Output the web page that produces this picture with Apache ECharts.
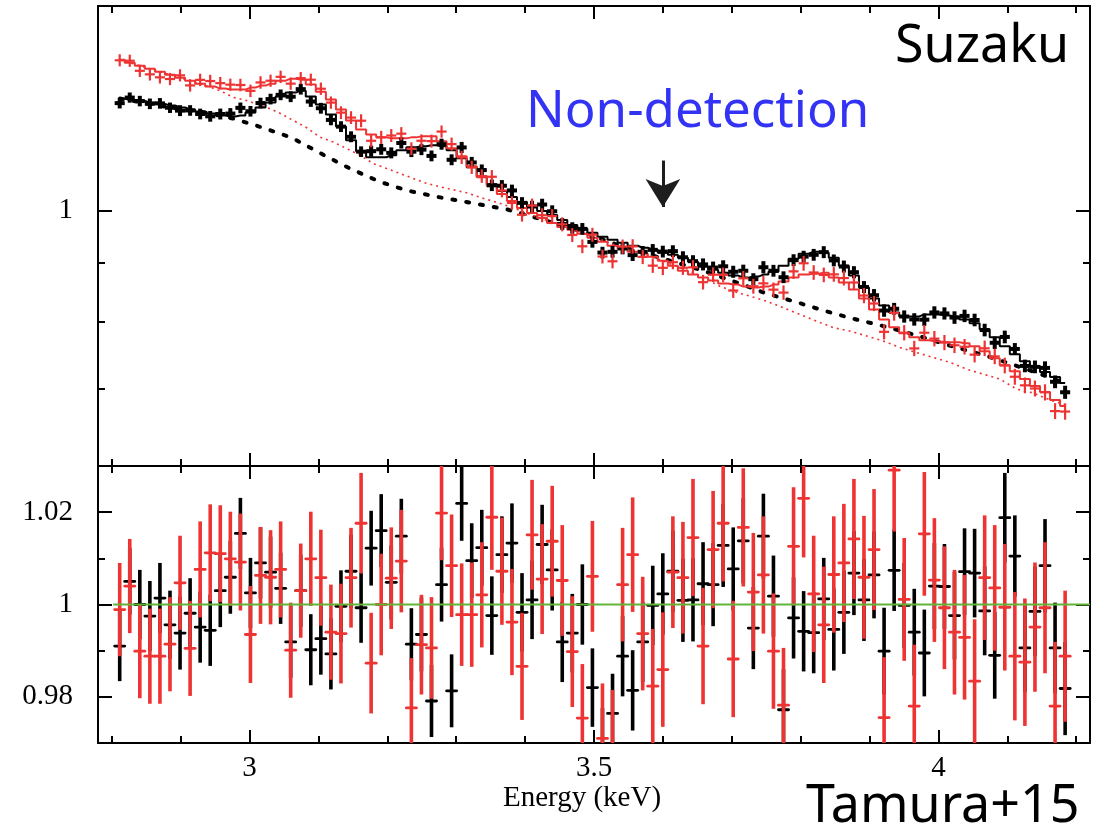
<!DOCTYPE html>
<html><head><meta charset="utf-8">
<script src="https://cdn.jsdelivr.net/npm/echarts@6/dist/echarts.min.js"></script>
<style>html,body{margin:0;padding:0;background:#fff}#c{width:1110px;height:829px}</style>
</head><body><div id="c"></div>
<script>
// ---- bin centres (keV) ----
const energies = [2.8115,2.8261,2.8407,2.8553,2.8699,2.8845,2.8991,2.9137,2.9283,2.9429,
2.9575,2.9721,2.9867,3.0013,3.0159,3.0305,3.0451,3.0597,3.0743,3.0889,
3.1035,3.1181,3.1327,3.1473,3.1619,3.1765,3.1911,3.2057,3.2203,3.2349,
3.2495,3.2641,3.2787,3.2933,3.3079,3.3225,3.3371,3.3517,3.3663,3.3809,
3.3955,3.4101,3.4247,3.4393,3.4539,3.4685,3.4831,3.4977,3.5123,3.5269,
3.5415,3.5561,3.5707,3.5853,3.5999,3.6145,3.6291,3.6437,3.6583,3.6729,
3.6875,3.7021,3.7167,3.7313,3.7459,3.7605,3.7751,3.7897,3.8043,3.8189,
3.8335,3.8481,3.8627,3.8773,3.8919,3.9065,3.9211,3.9357,3.9503,3.9649,
3.9795,3.9941,4.0087,4.0233,4.0379,4.0525,4.0671,4.0817,4.0963,4.1109,
4.1255,4.1401,4.1547,4.1693,4.1839];
const halfBin = 0.0073;

// ---- upper panel: data and model (black = XIS FI, red = XIS BI) ----
const blackData = [1.2394,1.2532,1.2445,1.2377,1.2388,1.2280,1.2209,1.2214,1.2128,1.2071,
1.2127,1.2138,1.2277,1.2194,1.2396,1.2495,1.2601,1.2554,1.2745,1.2434,
1.2268,1.1985,1.1825,1.1588,1.1248,1.1259,1.1301,1.1221,1.1445,1.1248,
1.1294,1.1153,1.1417,1.1067,1.1343,1.1008,1.0842,1.0516,1.0507,1.0409,
1.0153,1.0080,1.0120,0.9985,0.9734,0.9656,0.9639,0.9391,0.9193,0.9207,
0.9269,0.9146,0.9207,0.9243,0.9211,0.9219,0.9107,0.9036,0.8978,0.8922,
0.8944,0.8847,0.8865,0.8717,0.8927,0.8865,0.8751,0.9055,0.9119,0.9152,
0.9201,0.9050,0.8940,0.8839,0.8581,0.8441,0.8187,0.8216,0.8090,0.8043,
0.8039,0.8156,0.8140,0.8073,0.8100,0.8034,0.7874,0.7676,0.7766,0.7582,
0.7329,0.7315,0.7300,0.7100,0.6953];
const blackModel = [1.2507,1.2470,1.2445,1.2408,1.2371,1.2334,1.2285,1.2237,1.2188,1.2139,
1.2091,1.2067,1.2091,1.2164,1.2285,1.2408,1.2557,1.2657,1.2707,1.2557,
1.2359,1.2115,1.1830,1.1505,1.1256,1.1123,1.1123,1.1167,1.1278,1.1346,
1.1368,1.1391,1.1368,1.1278,1.1100,1.0904,1.0710,1.0541,1.0395,1.0272,
1.0170,1.0070,0.9990,0.9911,0.9813,0.9716,0.9639,0.9563,0.9487,0.9430,
0.9374,0.9319,0.9282,0.9245,0.9190,0.9153,0.9099,0.9027,0.8938,0.8884,
0.8831,0.8779,0.8744,0.8762,0.8797,0.8849,0.8955,0.9081,0.9172,0.9208,
0.9190,0.9099,0.8955,0.8779,0.8572,0.8387,0.8271,0.8156,0.8092,0.8092,
0.8124,0.8124,0.8108,0.8092,0.8043,0.7980,0.7885,0.7761,0.7623,0.7503,
0.7399,0.7326,0.7239,0.7167,0.7082];
const redData = [1.3502,1.3490,1.3221,1.3128,1.3050,1.3006,1.3102,1.2841,1.2984,1.2953,
1.2899,1.2860,1.2851,1.2702,1.2917,1.2962,1.3063,1.2886,1.3029,1.2988,
1.2756,1.2407,1.2160,1.2041,1.1966,1.1495,1.1574,1.1617,1.1660,1.1315,
1.1496,1.1488,1.1709,1.1419,1.1120,1.0901,1.0711,1.0697,1.0408,1.0152,
0.9915,1.0100,0.9906,0.9888,0.9727,0.9522,0.9309,0.9526,0.9121,0.9034,
0.9303,0.9307,0.9114,0.8956,0.8917,0.9018,0.8918,0.8925,0.8665,0.8795,
0.8792,0.8521,0.8732,0.8595,0.8644,0.8536,0.8486,0.8854,0.8999,0.8834,
0.8792,0.8801,0.8736,0.8659,0.8436,0.8303,0.7846,0.8147,0.7832,0.7590,
0.7832,0.7740,0.7679,0.7638,0.7615,0.7496,0.7592,0.7470,0.7336,0.7172,
0.7050,0.7006,0.6952,0.6696,0.6690];
const redModel = [1.3517,1.3436,1.3356,1.3277,1.3198,1.3119,1.3041,1.2964,1.2886,1.2810,
1.2759,1.2734,1.2734,1.2785,1.2836,1.2886,1.2964,1.3015,1.2990,1.2861,
1.2682,1.2482,1.2237,1.1972,1.1759,1.1643,1.1574,1.1551,1.1551,1.1574,
1.1597,1.1597,1.1482,1.1324,1.1145,1.0925,1.0689,1.0499,1.0334,1.0191,
1.0050,0.9950,0.9852,0.9754,0.9677,0.9620,0.9544,0.9468,0.9393,0.9319,
0.9263,0.9208,0.9172,0.9117,0.9045,0.8955,0.8867,0.8797,0.8744,0.8692,
0.8640,0.8623,0.8589,0.8572,0.8589,0.8623,0.8675,0.8744,0.8797,0.8814,
0.8831,0.8744,0.8658,0.8538,0.8387,0.8205,0.8043,0.7917,0.7823,0.7761,
0.7714,0.7699,0.7684,0.7684,0.7669,0.7623,0.7548,0.7443,0.7340,0.7253,
0.7139,0.7040,0.6957,0.6847,0.6766];

// continuum components (dashed black, dotted red)
const blackContE = [2.8119,2.8845,2.9280,2.9759,3.0195,3.0611,3.1022,3.1457,3.1893,3.2280,3.2716,3.3127,3.3514,3.3732,3.4215,3.4796,3.5376,3.5957,3.6537,3.7118,3.7505,3.7941,3.8327,3.8762,3.9198,3.9682,4.0214,4.0699,4.1134,4.1617,4.1860];
const blackContV = [1.2507,1.2285,1.2188,1.2019,1.1799,1.1567,1.1218,1.0875,1.0589,1.0410,1.0278,1.0177,1.0076,1.0024,0.9833,0.9601,0.9319,0.9099,0.8884,0.8640,0.8470,0.8325,0.8189,0.8055,0.7937,0.7792,0.7618,0.7477,0.7330,0.7163,0.7068];
const redContE = [2.8119,2.8845,2.9280,2.9571,2.9764,2.9958,3.0103,3.0248,3.0441,3.0635,3.0829,3.1022,3.1215,3.1410,3.1603,3.1796,3.1990,3.2183,3.2376,3.2571,3.2764,3.2909,3.3151,3.3392,3.3634,3.3780,3.4215,3.4796,3.5376,3.5957,3.6537,3.6827,3.7020,3.7263,3.7505,3.7746,3.7989,3.8231,3.8472,3.8714,3.8957,3.9198,3.9440,3.9682,3.9923,4.0166,4.0408,4.0649,4.0892,4.1134,4.1375,4.1617,4.1860];
const redContV = [1.3517,1.3119,1.2886,1.2707,1.2539,1.2457,1.2376,1.2292,1.2147,1.1972,1.1799,1.1581,1.1466,1.1317,1.1167,1.0984,1.0875,1.0768,1.0661,1.0556,1.0485,1.0437,1.0360,1.0246,1.0144,1.0076,0.9852,0.9582,0.9301,0.9063,0.8779,0.8594,0.8509,0.8425,0.8342,0.8233,0.8124,0.8016,0.7912,0.7859,0.7781,0.7704,0.7603,0.7528,0.7454,0.7380,0.7282,0.7210,0.7139,0.6998,0.6943,0.6847,0.6779];

// ---- lower panel: ratio data/model and 1-sigma errors ----
const blackRatio = [0.9910,1.0050,1.0000,0.9975,1.0014,0.9956,0.9938,0.9981,0.9951,0.9944,
1.0030,1.0059,1.0154,1.0025,1.0090,1.0070,1.0035,0.9919,1.0030,0.9902,
0.9926,0.9893,0.9996,1.0072,0.9993,1.0122,1.0160,1.0048,1.0148,0.9914,
0.9935,0.9791,1.0043,0.9813,1.0219,1.0095,1.0123,0.9976,1.0108,1.0133,
0.9983,1.0010,1.0130,1.0075,0.9919,0.9938,1.0000,0.9820,0.9690,0.9764,
0.9888,0.9814,0.9919,0.9998,1.0023,1.0072,1.0009,1.0010,1.0045,1.0043,
1.0128,1.0077,1.0138,0.9949,1.0148,1.0018,0.9772,0.9971,0.9942,0.9939,
1.0012,0.9946,0.9983,1.0068,1.0010,1.0064,0.9899,1.0074,0.9998,0.9940,
0.9895,1.0040,1.0039,0.9976,1.0071,1.0068,0.9986,0.9890,1.0188,1.0105,
0.9906,0.9985,1.0084,0.9906,0.9818];
const blackRatioErr = [0.0076,0.0072,0.0075,0.0076,0.0076,0.0074,0.0079,0.0076,0.0077,0.0077,
0.0079,0.0079,0.0077,0.0076,0.0077,0.0077,0.0077,0.0078,0.0078,0.0077,
0.0078,0.0077,0.0078,0.0079,0.0076,0.0081,0.0079,0.0080,0.0081,0.0078,
0.0080,0.0078,0.0080,0.0079,0.0081,0.0081,0.0082,0.0085,0.0083,0.0086,
0.0085,0.0085,0.0086,0.0088,0.0087,0.0085,0.0087,0.0085,0.0086,0.0086,
0.0087,0.0087,0.0087,0.0086,0.0088,0.0088,0.0090,0.0090,0.0090,0.0090,
0.0090,0.0090,0.0092,0.0089,0.0092,0.0088,0.0088,0.0088,0.0087,0.0088,
0.0089,0.0089,0.0090,0.0091,0.0089,0.0094,0.0094,0.0088,0.0092,0.0094,
0.0094,0.0093,0.0092,0.0095,0.0094,0.0096,0.0096,0.0094,0.0097,0.0088,
0.0096,0.0097,0.0101,0.0098,0.0101];
const redRatio = [0.9989,1.0040,0.9899,0.9888,0.9888,0.9914,1.0047,0.9905,1.0076,1.0112,
1.0110,1.0099,1.0092,0.9935,1.0063,1.0059,1.0076,0.9901,1.0030,1.0099,
1.0058,0.9940,0.9937,1.0058,1.0176,0.9873,1.0000,1.0057,1.0094,0.9776,
0.9913,0.9906,1.0198,1.0084,0.9978,0.9978,1.0021,1.0189,1.0072,0.9962,
0.9866,1.0151,1.0055,1.0137,1.0052,0.9898,0.9754,1.0061,0.9710,0.9694,
1.0043,1.0108,0.9937,0.9823,0.9859,1.0070,1.0058,1.0145,0.9910,1.0119,
1.0176,0.9882,1.0167,1.0027,1.0064,0.9899,0.9782,1.0126,1.0230,1.0023,
0.9956,1.0065,1.0090,1.0142,1.0059,1.0119,0.9755,1.0291,1.0011,0.9780,
1.0153,1.0053,0.9993,0.9940,0.9929,0.9834,1.0058,1.0036,0.9994,0.9888,
0.9875,0.9951,0.9993,0.9780,0.9888];
const redRatioErr = [0.0101,0.0102,0.0102,0.0103,0.0103,0.0102,0.0102,0.0103,0.0104,0.0105,
0.0105,0.0102,0.0105,0.0105,0.0105,0.0102,0.0104,0.0103,0.0102,0.0102,
0.0104,0.0103,0.0108,0.0108,0.0109,0.0109,0.0110,0.0110,0.0111,0.0108,
0.0108,0.0110,0.0102,0.0111,0.0111,0.0113,0.0114,0.0114,0.0116,0.0115,
0.0116,0.0119,0.0119,0.0120,0.0120,0.0120,0.0117,0.0120,0.0119,0.0121,
0.0123,0.0124,0.0123,0.0124,0.0124,0.0121,0.0121,0.0127,0.0126,0.0127,
0.0126,0.0126,0.0128,0.0128,0.0127,0.0125,0.0124,0.0128,0.0128,0.0126,
0.0126,0.0126,0.0128,0.0130,0.0133,0.0131,0.0131,0.0133,0.0133,0.0133,
0.0134,0.0134,0.0133,0.0135,0.0135,0.0134,0.0135,0.0136,0.0137,0.0139,
0.0138,0.0140,0.0142,0.0139,0.0142];

// ---- axes / ticks / labels ----
const xRange = [2.78, 4.22];
const xMajorTicks = [3, 3.5, 4];
const xMinorTicks = [2.8, 2.9, 3.1, 3.2, 3.3, 3.4, 3.6, 3.7, 3.8, 3.9, 4.1, 4.2];
const xTickLabels = ['3', '3.5', '4'];
const topRange = [0.6, 1.505];
const topMajorTicks = [1];
const topMinorTicks = [0.7, 0.8, 0.9];
const topTickLabels = ['1'];
const botRange = [0.97, 1.03];
const botMajorTicks = [0.98, 1, 1.02];
const botMinorTicks = [0.99, 1.01];
const botTickLabels = ['0.98', '1', '1.02'];
const ratioLine = [[2.802, 1], [4.22, 1]];
// annotation arrow (keV, value range)
const arrowE = 3.6, arrowFrom = 1.105, arrowTo = 1.007;

const RED = '#ee3333', BLACK = '#000000';
const L = v => Math.log10(v);
const labelFont = 'Liberation Serif';
const labelSize = 29;

function fmt(ticks, labels, tf) {
  return v => { const i = ticks.findIndex(t => Math.abs(tf(t) - v) < 1e-7); return i >= 0 ? labels[i] : ''; };
}
function xAx(grid, pos, ticks, len, line, withLabels) {
  return {
    type: 'value', gridIndex: grid, position: pos, min: xRange[0], max: xRange[1],
    axisLine: { show: line, onZero: false, lineStyle: { color: BLACK, width: 2 } },
    axisTick: { show: true, inside: true, length: len, customValues: ticks, lineStyle: { color: BLACK, width: 2 } },
    axisLabel: withLabels ? { show: true, customValues: ticks, formatter: fmt(xMajorTicks, xTickLabels, t => t),
      fontFamily: labelFont, fontSize: labelSize, color: BLACK, margin: 11 } : { show: false },
    splitLine: { show: false }
  };
}
function yAx(grid, pos, range, tf, ticks, len, line, labelTicks, labelTexts) {
  return {
    type: 'value', gridIndex: grid, position: pos, min: tf(range[0]), max: tf(range[1]),
    axisLine: { show: line, onZero: false, lineStyle: { color: BLACK, width: 2 } },
    axisTick: { show: true, inside: true, length: len, customValues: ticks.map(tf), lineStyle: { color: BLACK, width: 2 } },
    axisLabel: labelTicks ? { show: true, customValues: labelTicks.map(tf), formatter: fmt(labelTicks, labelTexts, tf),
      fontFamily: labelFont, fontSize: labelSize, color: BLACK, margin: 25 } : { show: false },
    splitLine: { show: false }
  };
}
const id = v => v;

function crossRows(vals, rel, tf) {
  return energies.map((e, i) => [e, tf(vals[i]), tf(vals[i] * (1 - rel[i])), tf(vals[i] * (1 + rel[i]))]);
}
function ratioRows(vals, err) {
  return energies.map((e, i) => [e, vals[i], vals[i] - err[i], vals[i] + err[i]]);
}
function crossSeries(xi, yi, rows, color, lwH, lwV, cap, z, extraV) {
  return {
    type: 'custom', xAxisIndex: xi, yAxisIndex: yi, clip: true, z: z, silent: true,
    dimensions: ['e', 'v', 'lo', 'hi'], encode: { x: 0, y: 1 }, data: rows,
    renderItem: (params, api) => {
      const e = api.value(0), v = api.value(1), lo = api.value(2), hi = api.value(3);
      const a = api.coord([e - halfBin, v]), b = api.coord([e + halfBin, v]);
      const t = api.coord([e, hi]), u = api.coord([e, lo]);
      return { type: 'group', children: [
        { type: 'line', shape: { x1: t[0], y1: t[1] - extraV, x2: u[0], y2: u[1] + extraV }, style: { stroke: color, lineWidth: lwV, lineCap: 'butt' } },
        { type: 'line', shape: { x1: a[0], y1: a[1], x2: b[0], y2: b[1] }, style: { stroke: color, lineWidth: lwH, lineCap: cap } }
      ] };
    }
  };
}

const option = {
  animation: false,
  backgroundColor: '#fff',
  grid: [
    { left: 98, top: 6, width: 992, height: 460, containLabel: false },
    { left: 98, top: 466, width: 992, height: 277, containLabel: false }
  ],
  xAxis: [
    xAx(0, 'bottom', xMajorTicks, 13, true, false),
    xAx(0, 'bottom', xMinorTicks, 7, false, false),
    xAx(0, 'top', xMajorTicks, 13, true, false),
    xAx(0, 'top', xMinorTicks, 7, false, false),
    Object.assign(xAx(1, 'bottom', xMajorTicks, 13, true, true), {
      name: 'Energy (keV)', nameLocation: 'middle', nameGap: 40,
      nameTextStyle: { fontFamily: labelFont, fontSize: labelSize, color: BLACK, padding: [0, 24, 0, 0] }
    }),
    xAx(1, 'bottom', xMinorTicks, 7, false, false),
    xAx(1, 'top', xMajorTicks, 13, true, false),
    xAx(1, 'top', xMinorTicks, 7, false, false)
  ],
  yAxis: [
    yAx(0, 'left', topRange, L, topMajorTicks, 14, true, topMajorTicks, topTickLabels),
    yAx(0, 'left', topRange, L, topMinorTicks, 7, false, null, null),
    yAx(0, 'right', topRange, L, topMajorTicks, 14, true, null, null),
    yAx(0, 'right', topRange, L, topMinorTicks, 7, false, null, null),
    yAx(1, 'left', botRange, id, botMajorTicks, 14, true, botMajorTicks, botTickLabels),
    yAx(1, 'left', botRange, id, botMinorTicks, 7, false, null, null),
    yAx(1, 'right', botRange, id, botMajorTicks, 14, true, null, null),
    yAx(1, 'right', botRange, id, botMinorTicks, 7, false, null, null)
  ],
  series: [
    { type: 'line', xAxisIndex: 0, yAxisIndex: 0, z: 3, symbol: 'none', silent: true,
      data: blackContE.map((e, i) => [e, L(blackContV[i])]),
      lineStyle: { color: BLACK, width: 4, type: [3, 11], cap: 'round' },
      markLine: { silent: true, symbol: ['none', 'arrow'], symbolSize: [26, 28], animation: false,
        label: { show: false }, lineStyle: { color: '#1e1e1e', width: 3, type: 'solid' },
        data: [[{ coord: [arrowE, L(arrowFrom)] }, { coord: [arrowE, L(arrowTo)] }]] } },
    { type: 'line', xAxisIndex: 0, yAxisIndex: 0, z: 3, symbol: 'none', silent: true,
      data: redContE.map((e, i) => [e, L(redContV[i])]),
      lineStyle: { color: RED, width: 1.6, type: [2, 4] } },
    { type: 'line', xAxisIndex: 0, yAxisIndex: 0, z: 4, symbol: 'none', step: 'middle', silent: true,
      data: energies.map((e, i) => [e, L(blackModel[i])]), lineStyle: { color: BLACK, width: 2 } },
    { type: 'line', xAxisIndex: 0, yAxisIndex: 0, z: 4, symbol: 'none', step: 'middle', silent: true,
      data: energies.map((e, i) => [e, L(redModel[i])]), lineStyle: { color: RED, width: 2 } },
    crossSeries(0, 0, crossRows(blackData, blackRatioErr, L), BLACK, 4, 4, 'butt', 5, 1.5),
    crossSeries(0, 0, crossRows(redData, redRatioErr, L), RED, 2.2, 2.2, 'butt', 6, 1),
    crossSeries(4, 4, ratioRows(blackRatio, blackRatioErr), BLACK, 2.8, 3.6, 'round', 5, 0),
    crossSeries(4, 4, ratioRows(redRatio, redRatioErr), RED, 2.8, 3.6, 'round', 6, 0),
    { type: 'line', xAxisIndex: 4, yAxisIndex: 4, z: 8, symbol: 'none', silent: true,
      data: ratioLine, lineStyle: { color: '#62b33a', width: 2 } }
  ],
  graphic: [
    { type: 'text', x: 895, y: 47, z: 100,
      style: { text: 'Suzaku', font: '52px "Noto Sans"', fill: '#000', align: 'left', verticalAlign: 'middle', textAlign: 'left', textVerticalAlign: 'middle' } },
    { type: 'text', x: 526, y: 112, z: 100,
      style: { text: 'Non-detection', font: '51px "Noto Sans"', fill: '#3333f5', align: 'left', verticalAlign: 'middle', textAlign: 'left', textVerticalAlign: 'middle' } },
    { type: 'text', x: 806, y: 807, z: 100,
      style: { text: 'Tamura+15', font: '52px "Noto Sans"', fill: '#000', align: 'left', verticalAlign: 'middle', textAlign: 'left', textVerticalAlign: 'middle' } }
  ]
};
const chart = echarts.init(document.getElementById('c'), null, { renderer: 'canvas' });
chart.setOption(option);
</script>
</body></html>
